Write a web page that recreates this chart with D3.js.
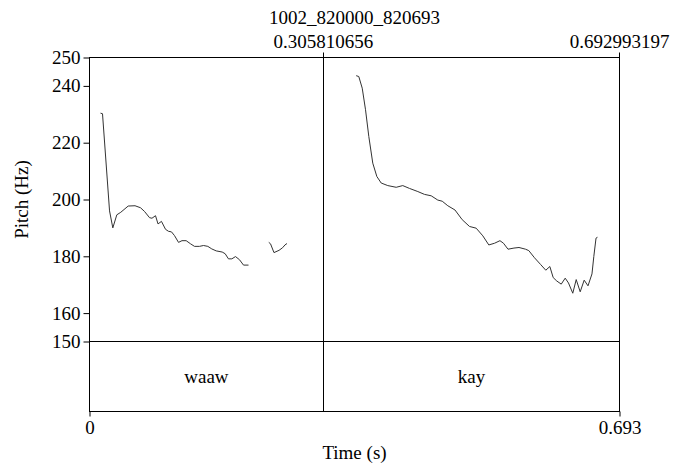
<!DOCTYPE html>
<html>
<head>
<meta charset="utf-8">
<script src="https://cdn.jsdelivr.net/npm/d3@7"></script>
<style>
  html, body { margin: 0; padding: 0; background: #fff; }
  svg text { font-family: "Liberation Serif", "Times New Roman", serif; fill: #000; }
</style>
</head>
<body>
<svg id="chart" width="673" height="469"></svg>
<script>
// ---- data ----
const title = "1002_820000_820693";
const xMax = 0.692993197;
const boundaryTime = 0.305810656;
const yTicks = [150, 160, 180, 200, 220, 240, 250];
const xTickLabels = ["0", "0.693"];
const intervalLabels = ["waaw", "kay"];
const intervalBounds = [0, 0.305810656, 0.692993197];

// pitch track (null = unvoiced gap)
const times = [
  0.0144, 0.0170, 0.0262, 0.0305, 0.0357, 0.0409, 0.0506, 0.0595, 0.0667, 0.0719,
  0.0785, 0.0817, 0.0863, 0.0896, 0.0941, 0.0994, 0.1033, 0.1072, 0.1111, 0.1164,
  0.1209, 0.1264, 0.1321, 0.1373, 0.1438, 0.1491, 0.1547, 0.1599, 0.1657, 0.1735,
  0.1774, 0.1817, 0.1861, 0.1909, 0.1961, 0.2014, 0.2079,
  0.2200,
  0.2344, 0.2367, 0.2412, 0.2478, 0.2524, 0.2556, 0.2582,
  0.3000,
  0.3487, 0.3521, 0.3566, 0.3609, 0.3652, 0.3704, 0.3757, 0.3814, 0.3900, 0.4010,
  0.4096, 0.4184, 0.4293, 0.4380, 0.4468, 0.4554, 0.4612, 0.4685, 0.4779, 0.4873,
  0.4969, 0.5056, 0.5143, 0.5221, 0.5296, 0.5367, 0.5413, 0.5472, 0.5550, 0.5616,
  0.5701, 0.5744, 0.5818, 0.5899, 0.5966, 0.6019, 0.6063, 0.6110, 0.6168, 0.6220,
  0.6263, 0.6319, 0.6364, 0.6416, 0.6468, 0.6518, 0.6570, 0.6594, 0.6623, 0.6642
];
const pitch = [
  230.4, 230.2, 196.0, 190.0, 194.6, 195.5, 197.7, 197.8, 197.1, 195.8,
  193.6, 193.4, 194.3, 191.4, 192.3, 189.5, 188.8, 188.6, 187.3, 184.9,
  185.5, 185.5, 184.4, 183.5, 183.5, 183.8, 183.5, 182.6, 181.9, 181.5,
  180.9, 179.1, 179.1, 179.9, 178.8, 176.9, 176.9,
  null,
  184.9, 184.4, 181.3, 182.1, 183.0, 184.0, 184.5,
  null,
  243.6, 243.3, 239.2, 231.6, 222.2, 212.8, 208.1, 205.8, 204.9, 204.3,
  204.9, 203.9, 202.8, 201.8, 201.3, 199.8, 199.4, 197.8, 196.3, 192.9,
  190.5, 189.9, 187.2, 184.0, 184.6, 185.5, 184.6, 182.5, 182.9, 183.1,
  182.5, 182.0, 179.5, 177.1, 175.1, 176.4, 172.5, 171.3, 170.2, 172.3,
  170.6, 167.0, 171.8, 167.5, 171.6, 169.6, 173.8, 179.9, 186.4, 186.7
];

// ---- layout ----
const svg = d3.select("#chart");
const plotLeft = 89.5, plotRight = 619.5, plotTop = 57.5, pitchBottom = 341.5, tierBottom = 411.5;
const fs = 19;

const x = d3.scaleLinear().domain([0, xMax]).range([plotLeft, plotRight]);
const y = d3.scaleLinear().domain([150, 250]).range([pitchBottom, plotTop]);

// pitch curve
const line = d3.line()
  .defined((d, i) => pitch[i] !== null)
  .x((d, i) => x(times[i]))
  .y((d, i) => y(pitch[i]));
svg.append("path")
  .attr("d", line(times))
  .attr("fill", "none")
  .attr("stroke", "#333")
  .attr("stroke-width", 1);

// frame
svg.append("rect")
  .attr("x", plotLeft).attr("y", plotTop)
  .attr("width", plotRight - plotLeft).attr("height", tierBottom - plotTop)
  .attr("fill", "none").attr("stroke", "#000").attr("stroke-width", 1);

// pitch / tier separator
svg.append("line")
  .attr("x1", plotLeft).attr("x2", plotRight)
  .attr("y1", y(150)).attr("y2", y(150))
  .attr("stroke", "#000").attr("stroke-width", 1);

// interval boundary
const bx = Math.round(x(boundaryTime)) + 0.5;
svg.append("line")
  .attr("x1", bx).attr("x2", bx)
  .attr("y1", plotTop - 5).attr("y2", tierBottom)
  .attr("stroke", "#000").attr("stroke-width", 1);

// y axis
const yAxis = d3.axisLeft(y).tickValues(yTicks).tickSize(6).tickPadding(3).tickFormat(d3.format("d"));
const gy = svg.append("g").attr("transform", `translate(${plotLeft},0)`).call(yAxis);
gy.select(".domain").remove();
gy.selectAll("line").attr("stroke", "#000");
gy.selectAll("text").style("font-size", fs + "px").style("font-family", '"Liberation Serif", serif');

// y label
svg.append("text")
  .attr("transform", `translate(28,${(plotTop + pitchBottom) / 2}) rotate(-90)`)
  .attr("text-anchor", "middle")
  .style("font-size", fs + "px")
  .text("Pitch (Hz)");

// bottom x axis ticks
const xAxis = d3.axisBottom(x).tickValues([0, xMax]).tickSize(5).tickPadding(4)
  .tickFormat((d, i) => xTickLabels[i]);
const gx = svg.append("g").attr("transform", `translate(0,${tierBottom})`).call(xAxis);
gx.select(".domain").remove();
gx.selectAll("line").attr("stroke", "#000");
gx.selectAll("text").style("font-size", fs + "px").style("font-family", '"Liberation Serif", serif');

svg.append("text")
  .attr("x", (plotLeft + plotRight) / 2).attr("y", 459)
  .attr("text-anchor", "middle")
  .style("font-size", fs + "px")
  .text("Time (s)");

// top: boundary labels
const topLabels = [boundaryTime, xMax];
svg.selectAll("text.toplab").data(topLabels).enter().append("text")
  .attr("class", "toplab")
  .attr("x", d => x(d)).attr("y", 48)
  .attr("text-anchor", "middle")
  .style("font-size", fs + "px")
  .text(d => d.toFixed(9));
svg.append("line")
  .attr("x1", x(xMax)).attr("x2", x(xMax))
  .attr("y1", plotTop - 5).attr("y2", plotTop)
  .attr("stroke", "#000");

// title
svg.append("text")
  .attr("x", (plotLeft + plotRight) / 2).attr("y", 24)
  .attr("text-anchor", "middle")
  .style("font-size", fs + "px")
  .text(title);

// interval labels
svg.selectAll("text.ilab").data(intervalLabels).enter().append("text")
  .attr("class", "ilab")
  .attr("x", (d, i) => (x(intervalBounds[i]) + x(intervalBounds[i + 1])) / 2)
  .attr("y", (pitchBottom + tierBottom) / 2)
  .attr("dy", "0.35em")
  .attr("text-anchor", "middle")
  .style("font-size", fs + "px")
  .text(d => d);
</script>
</body>
</html>
